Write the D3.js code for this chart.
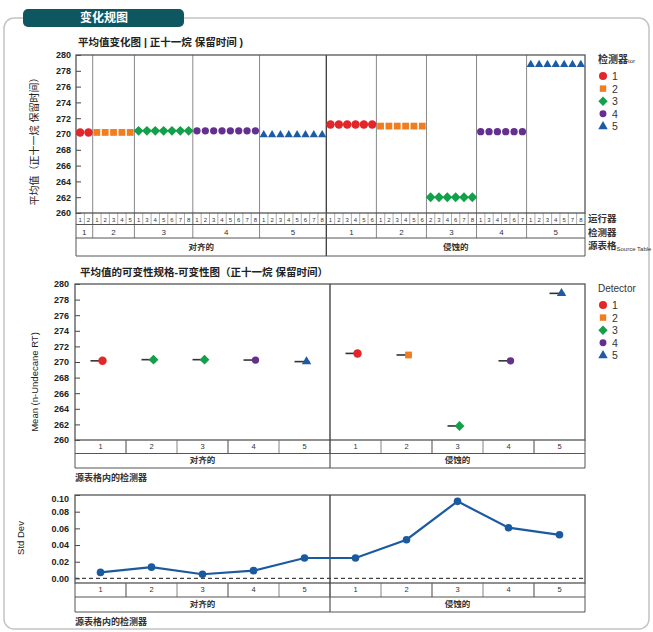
<!DOCTYPE html>
<html>
<head>
<meta charset="utf-8">
<script src="https://cdn.jsdelivr.net/npm/d3@7"></script>
<style>
  body { margin: 0; background: #fff; }
  svg { display: block; font-family: "Liberation Sans", "Noto Sans CJK SC", sans-serif; }
  .tick text { font-weight: bold; font-size: 9px; fill: #222; }
  .tick line { stroke: #444; }
</style>
</head>
<body>
<div id="vis"></div>
<script>
// ---- data ----
const groups = ["对齐的", "侵蚀的"];
const detectors = ["1", "2", "3", "4", "5"];
const colors = ["#e3262a", "#f07d1f", "#13a04a", "#64308f", "#1d5ca5"];

// run labels per group / detector (top chart, row 1)
const runLabels = [
  [["1","2"], ["1","2","3","4","5"], ["1","3","4","5","6","7","8"],
   ["1","2","3","4","5","6","7","8"], ["1","2","3","4","5","6","7","8"]],
  [["1","2","3","4","5","6"], ["1","2","3","4","5","6"], ["2","3","4","6","7","8"],
   ["1","3","4","5","6","7"], ["1","2","3","4","5","7","8"]]
];
// retention time per run (top chart)
const runValues = [
  [[270.2, 270.2], [270.2, 270.2, 270.2, 270.2, 270.2],
   [270.4, 270.4, 270.4, 270.4, 270.4, 270.4, 270.4],
   [270.4, 270.4, 270.4, 270.4, 270.4, 270.4, 270.4, 270.4],
   [269.9, 269.9, 269.9, 269.9, 269.9, 269.9, 269.9, 269.9]],
  [[271.2, 271.2, 271.2, 271.2, 271.2, 271.2],
   [271.0, 271.0, 271.0, 271.0, 271.0, 271.0],
   [262.0, 262.0, 262.0, 262.0, 262.0, 262.0],
   [270.3, 270.3, 270.3, 270.3, 270.3, 270.3],
   [278.8, 278.8, 278.8, 278.8, 278.8, 278.8, 278.8]]
];
// middle chart: mean per group/detector, and the marker style shown
const meanValues = [[270.15, 270.3, 270.3, 270.25, 270.05], [271.1, 270.9, 261.8, 270.15, 278.8]];
const meanMarker = [[0, 2, 2, 3, 4], [0, 1, 2, 3, 4]];
// bottom chart: std dev
const stdValues = [[0.0072, 0.0135, 0.005, 0.0093, 0.0245], [0.0245, 0.0464, 0.0924, 0.0608, 0.0523]];

const rtTicks = [260, 262, 264, 266, 268, 270, 272, 274, 276, 278, 280];
const sdTicks = [0, 0.02, 0.04, 0.06, 0.08, 0.10];

// ---- setup ----
const W = 653, H = 632;
const svg = d3.select("#vis").append("svg").attr("width", W).attr("height", H);

// diamond = square turned 45deg (wider than d3's symbolDiamond)
const diamond = d3.symbolDiamond2 || d3.symbolSquare;
const shapes = [d3.symbolCircle, d3.symbolSquare, diamond, d3.symbolCircle, d3.symbolTriangle];
const sizes = [56, 46, 62, 42, 30];
function marker(i, scale) {
  return d3.symbol().type(shapes[i]).size(sizes[i] * (scale || 1))();
}

// frame + tab
svg.append("rect").attr("x", 4).attr("y", 18).attr("width", 645).attr("height", 611)
  .attr("rx", 10).attr("fill", "none").attr("stroke", "#c4c4c4").attr("stroke-width", 1.5);
svg.append("rect").attr("x", 23).attr("y", 9).attr("width", 161).attr("height", 18)
  .attr("rx", 5).attr("fill", "#0e5761");
svg.append("text").attr("x", 104).attr("y", 22).attr("text-anchor", "middle")
  .attr("fill", "#fff").attr("font-size", 12).attr("font-weight", "bold").text("变化规图");

function title(x, y, t) {
  svg.append("text").attr("x", x).attr("y", y).attr("font-size", 10.5)
    .attr("font-weight", "bold").attr("fill", "#222").text(t);
}
function yLabel(x, y, t, size) {
  svg.append("text").attr("transform", "translate(" + x + "," + y + ") rotate(-90)")
    .attr("text-anchor", "middle").attr("font-size", size || 9.5).attr("fill", "#222").text(t);
}
function hline(g, x1, x2, y, w) {
  g.append("line").attr("x1", x1).attr("x2", x2).attr("y1", y).attr("y2", y)
    .attr("stroke", "#555").attr("stroke-width", w || 1);
}
function vline(g, x, y1, y2, w, c) {
  g.append("line").attr("x1", x).attr("x2", x).attr("y1", y1).attr("y2", y2)
    .attr("stroke", c || "#555").attr("stroke-width", w || 1);
}
function legend(x, y, head, extra) {
  const lg = svg.append("g").attr("transform", "translate(" + x + "," + y + ")");
  const t = lg.append("text").attr("x", -5).attr("y", 0).attr("font-size", 10)
    .attr("font-weight", head === "Detector" ? "normal" : "bold").attr("fill", "#333").text(head);
  if (extra) t.append("tspan").attr("font-size", 6).attr("font-weight", "normal").text(extra);
  detectors.forEach((d, i) => {
    lg.append("path").attr("d", marker(i, i === 4 ? 1.3 : 0.9)).attr("fill", colors[i])
      .attr("transform", "translate(0," + (13 + i * 12.6) + ")");
    lg.append("text").attr("x", 9).attr("y", 17 + i * 12.6).attr("font-size", 10.5)
      .attr("fill", "#333").text(d);
  });
}

// ---- top chart: retention time per run ----
const points = [];
const segments = [];
groups.forEach((g, gi) => {
  detectors.forEach((d, di) => {
    const start = points.length;
    runLabels[gi][di].forEach((r, ri) => {
      points.push({ gi, di, r, v: runValues[gi][di][ri] });
    });
    segments.push({ gi, di, start, end: points.length - 1 });
  });
});

const topG = svg.append("g");
const xTop = d3.scaleBand().domain(d3.range(points.length)).range([76, 585]);
const yTop = d3.scaleLinear().domain([260, 280]).range([213, 55]);
const rowsTop = [213, 224.5, 238, 256];

title(78, 46, "平均值变化图 | 正十一烷 保留时间 )");
yLabel(38, 139, "平均值（正十一烷 保留时间）", 10);

topG.append("g").attr("transform", "translate(76,0)")
  .call(d3.axisLeft(yTop).tickValues(rtTicks).tickSize(-5).tickPadding(5))
  .call(g => g.select(".domain").remove());

segments.forEach((s, i) => {
  if (s.start === 0) return;
  const x = xTop(s.start);
  const isGroup = s.di === 0;
  vline(topG, x, 55, isGroup ? rowsTop[3] : rowsTop[2], isGroup ? 1.4 : 1, isGroup ? "#444" : "#888");
});
// run cells
points.forEach((p, i) => {
  if (i > 0) vline(topG, xTop(i), rowsTop[0], rowsTop[1], 0.6, "#777");
  topG.append("text").attr("x", xTop(i) + xTop.bandwidth() / 2).attr("y", 221.5)
    .attr("text-anchor", "middle").attr("font-size", 6).attr("fill", "#333").text(p.r);
});
segments.forEach(s => {
  const cx = (xTop(s.start) + xTop(s.end) + xTop.bandwidth()) / 2;
  topG.append("text").attr("x", cx).attr("y", 234.5).attr("text-anchor", "middle")
    .attr("font-size", 8).attr("fill", "#333").text(detectors[s.di]);
});
groups.forEach((g, gi) => {
  const seg = segments.filter(s => s.gi === gi);
  const cx = (xTop(seg[0].start) + xTop(seg[seg.length - 1].end) + xTop.bandwidth()) / 2;
  topG.append("text").attr("x", cx).attr("y", 250).attr("text-anchor", "middle")
    .attr("font-size", 8.5).attr("font-weight", "bold").attr("fill", "#333").text(g);
});
topG.append("rect").attr("x", 76).attr("y", 55).attr("width", 509).attr("height", 158)
  .attr("fill", "none").attr("stroke", "#555").attr("stroke-width", 1.3);
rowsTop.slice(1).forEach(y => hline(topG, 76, 585, y));
vline(topG, 76, 213, 256); vline(topG, 585, 213, 256);

topG.selectAll("path.pt").data(points).join("path").attr("class", "pt")
  .attr("d", p => marker(p.di))
  .attr("fill", p => colors[p.di])
  .attr("transform", (p, i) => "translate(" + (xTop(i) + xTop.bandwidth() / 2) + "," + yTop(p.v) + ")");

const rowNames = ["运行器", "检测器", "源表格"];
rowNames.forEach((t, i) => {
  const tx = svg.append("text").attr("x", 588).attr("y", 222 + i * 13.5).attr("font-size", 9.5)
    .attr("font-weight", "bold").attr("fill", "#333").text(t);
  if (i === 2) tx.append("tspan").attr("font-size", 6).attr("font-weight", "normal").attr("dy", 2).text("Source Table");
});
legend(603, 63, "检测器", "tor");

// ---- middle chart: mean per detector ----
const cells = [];
groups.forEach((g, gi) => detectors.forEach((d, di) => cells.push({ gi, di })));
const xMid = d3.scaleBand().domain(d3.range(cells.length)).range([75, 585]);
const yMid = d3.scaleLinear().domain([260, 280]).range([440, 284]);
const mid = svg.append("g");

title(80, 276, "平均值的可变性规格-可变性图（正十一烷 保留时间）");
yLabel(38, 382, "Mean (n-Undecane RT)", 9.5);

mid.append("g").attr("transform", "translate(75,0)")
  .call(d3.axisLeft(yMid).tickValues(rtTicks).tickSize(-5).tickPadding(6))
  .call(g => g.select(".domain").remove());

function cellRows(g, x, yTop0, y1, y2, y3, lab) {
  cells.forEach((c, i) => {
    const cx = x(i) + x.bandwidth() / 2;
    if (i > 0) vline(g, x(i), yTop0, y2, c.di === 0 ? 1.4 : (i % 2 ? 1.2 : 0.8), c.di === 0 ? "#444" : "#666");
    g.append("text").attr("x", cx).attr("y", y1 + 8.5).attr("text-anchor", "middle")
      .attr("font-size", 7.5).attr("fill", "#333").text(detectors[c.di]);
  });
  vline(g, x(5), y2, y3, 1.2, "#555");
  groups.forEach((gname, gi) => {
    const cx = x(gi * 5) + x.bandwidth() * 2.5;
    g.append("text").attr("x", cx).attr("y", y2 + 9.5).attr("text-anchor", "middle")
      .attr("font-size", 8.5).attr("font-weight", "bold").attr("fill", "#333").text(gname);
  });
  hline(g, 75, 585, y2); hline(g, 75, 585, y3);
  vline(g, 75, y1, y3); vline(g, 585, y1, y3);
  g.append("text").attr("x", 75).attr("y", y3 + 13).attr("font-size", 9)
    .attr("font-weight", "bold").attr("fill", "#333").text(lab);
}

mid.append("rect").attr("x", 75).attr("y", 284).attr("width", 510).attr("height", 156)
  .attr("fill", "none").attr("stroke", "#555").attr("stroke-width", 1.3);
// only the group separator crosses the plot body
vline(mid, xMid(5), 284, 440, 1.4, "#444");
cellRows(mid.append("g"), xMid, 440, 440, 453.5, 468, "源表格内的检测器");

cells.forEach((c, i) => {
  const cx = xMid(i) + xMid.bandwidth() / 2;
  const y = yMid(meanValues[c.gi][c.di]);
  mid.append("line").attr("x1", cx - 10).attr("x2", cx + 5).attr("y1", y).attr("y2", y)
    .attr("stroke", "#333").attr("stroke-width", 1.6);
  const m = meanMarker[c.gi][c.di];
  mid.append("path").attr("d", marker(m, m === 4 ? 1.3 : 1)).attr("fill", colors[m])
    .attr("transform", "translate(" + (cx + 2) + "," + y + ")");
});
legend(603, 292, "Detector");

// ---- bottom chart: std dev ----
const bot = svg.append("g");
const yBot = d3.scaleLinear().domain([-0.0055, 0.10]).range([583, 495]);
yLabel(24, 538, "Std Dev", 9.5);

bot.append("g").attr("transform", "translate(75,0)")
  .call(d3.axisLeft(yBot).tickValues(sdTicks).tickFormat(d3.format(".2f")).tickSize(-5).tickPadding(6))
  .call(g => g.select(".domain").remove())
  .call(g => g.selectAll(".tick").filter(d => d === 0.10).select("text").attr("dy", "0.7em"));

bot.append("line").attr("x1", 75).attr("x2", 585).attr("y1", yBot(0)).attr("y2", yBot(0))
  .attr("stroke", "#444").attr("stroke-width", 1.3).attr("stroke-dasharray", "4,3");

bot.append("rect").attr("x", 75).attr("y", 495).attr("width", 510).attr("height", 88)
  .attr("fill", "none").attr("stroke", "#555").attr("stroke-width", 1.3);
vline(bot, xMid(5), 495, 583, 1.4, "#444");
cellRows(bot.append("g"), xMid, 583, 583, 597, 612, "源表格内的检测器");

const line = d3.line()
  .x((c, i) => xMid(i) + xMid.bandwidth() / 2)
  .y(c => yBot(stdValues[c.gi][c.di]));
bot.append("path").datum(cells).attr("d", line).attr("fill", "none")
  .attr("stroke", "#1c5aa0").attr("stroke-width", 2.2);
bot.selectAll("circle.sd").data(cells).join("circle").attr("class", "sd")
  .attr("cx", (c, i) => xMid(i) + xMid.bandwidth() / 2)
  .attr("cy", c => yBot(stdValues[c.gi][c.di]))
  .attr("r", 3.8).attr("fill", "#1c5aa0");
</script>
</body>
</html>
